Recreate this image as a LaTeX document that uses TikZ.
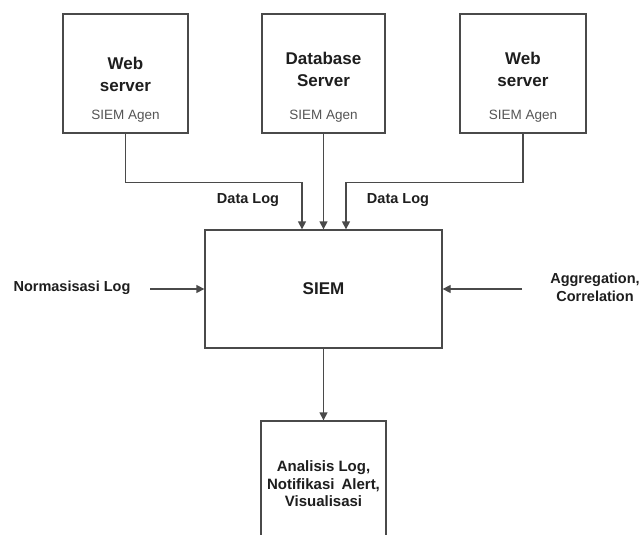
\documentclass[tikz,border=0pt]{standalone}
\usepackage{fontspec}
\setmainfont{Liberation Sans}
\usetikzlibrary{arrows.meta,calc}
\definecolor{linegray}{HTML}{4A4A4A}
\definecolor{inkdark}{HTML}{1E1E1E}
\definecolor{subgray}{HTML}{555555}
\tikzset{
  box/.style={draw=linegray, line width=1.3pt, fill=white, inner sep=0pt},
  conn/.style={draw=linegray, line width=1.3pt, -{Triangle[length=8pt,width=8pt]}},
  title/.style={align=center, text=inkdark, font=\fontsize{17}{22}\selectfont\bfseries},
  agent/.style={text=subgray, font=\fontsize{13.5}{16}\selectfont},
  lbl/.style={align=center, text=inkdark, font=\fontsize{14.5}{18}\selectfont\bfseries},
}
\begin{document}
\begin{tikzpicture}[x=1pt,y=-1pt]
  \clip (0,0) rectangle (641,535);
  \fill[white] (0,0) rectangle (641,535);

  % source hosts
  \node[box, minimum width=125pt, minimum height=119pt] (web1) at (125.5,73.5) {};
  \node[box, minimum width=123pt, minimum height=119pt] (db)   at (323.5,73.5) {};
  \node[box, minimum width=126pt, minimum height=119pt] (web2) at (523,73.5) {};

  \node[title] (web1t) at (125.5,74) {Web\\server};
  \node[agent] (web1a) at (125.5,116) {SIEM Agen};
  \node[title] (dbt) at (323.5,69) {Database\\Server};
  \node[agent] (dba) at (323.5,116) {SIEM Agen};
  \node[title] (web2t) at (523,69) {Web\\server};
  \node[agent] (web2a) at (523,116) {SIEM Agen};

  % central SIEM
  \node[box, minimum width=237pt, minimum height=118pt] (siem) at (323.5,289) {};
  \node[title] (siemt) at (siem.center) {SIEM};

  % output box (runs past the lower edge)
  \node[box, minimum width=125pt, minimum height=139pt] (out) at (323.5,490.5) {};
  \node[lbl, font=\fontsize{15}{17.5}\selectfont\bfseries] (outt) at (323.5,484)
    {Analisis Log,\\Notifikasi\hspace{7pt}Alert,\\Visualisasi};

  % entry points on top of SIEM
  \coordinate (in1) at ([xshift=-21.5pt]siem.north);
  \coordinate (in2) at (siem.north);
  \coordinate (in3) at ([xshift=22.5pt]siem.north);

  \draw[conn] (web1.south) -- ++(0,49) -| (in1);
  \draw[conn] (db.south) -- (in2);
  \draw[conn] (web2.south) -- ++(0,49) -| (in3);

  \node[lbl] (dl1) at (248,200) {Data Log};
  \node[lbl] (dl2) at (398,200) {Data Log};

  % side inputs
  \node[lbl] (norm) at (72,288) {Normasisasi Log};
  \coordinate (normtail) at (150,289);
  \draw[conn] (normtail) -- (siem.west);

  \node[lbl] (agg) at (595,287.5) {Aggregation,\\Correlation};
  \coordinate (aggtail) at (522,289);
  \draw[conn] (aggtail) -- (siem.east);

  % result
  \draw[conn] (siem.south) -- (out.north);
\end{tikzpicture}
\end{document}
